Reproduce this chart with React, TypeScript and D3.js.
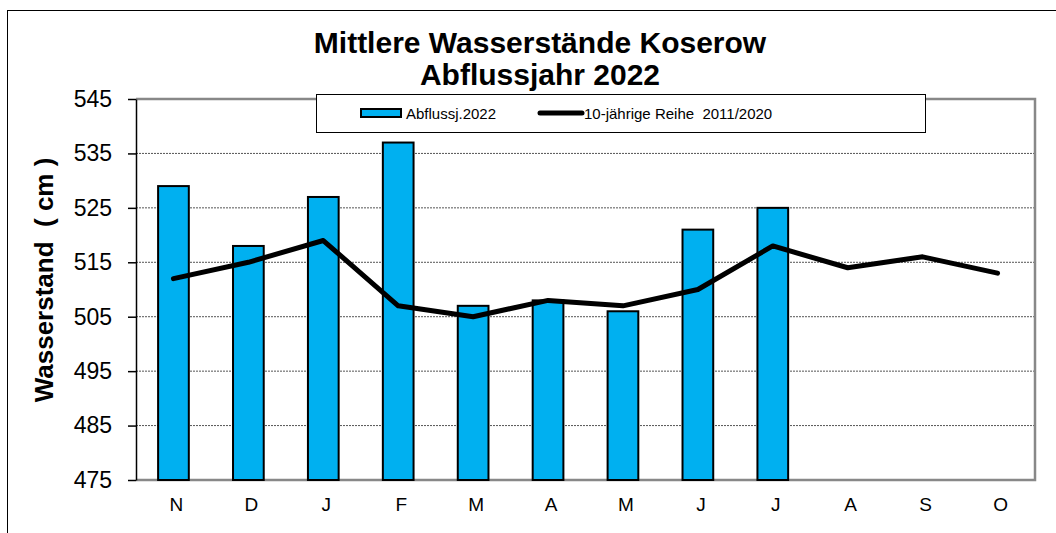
import React, { useEffect, useRef } from "react";
import * as d3 from "d3";

// Monatskürzel Abflussjahr (Nov - Okt)
const months = ["N", "D", "J", "F", "M", "A", "M", "J", "J", "A", "S", "O"];
// Abflussjahr 2022 (nur bis Juli vorhanden)
const values2022 = [529, 518, 527, 537, 507, 508, 506, 521, 525];
// 10-jährige Reihe 2011/2020
const values10y = [512, 515, 519, 507, 505, 508, 507, 510, 518, 514, 516, 513];
const yTicks = [475, 485, 495, 505, 515, 525, 535, 545];

const W = 1056;
const H = 533;
const FONT = "'Liberation Sans', Arial, sans-serif";

export default function App() {
  const ref = useRef<SVGSVGElement>(null);

  useEffect(() => {
    const svg = d3.select(ref.current);
    svg.selectAll("*").remove();

    const left = 136, right = 1035, top = 99, bottom = 480;

    const x = d3.scaleBand<number>()
      .domain(d3.range(months.length))
      .range([left, right])
      .paddingInner(0.59)
      .paddingOuter(0.295);
    const band = (right - left) / months.length;
    const xc = (i: number) => left + band * (i + 0.5);

    const y = d3.scaleLinear().domain([475, 545]).range([bottom, top]);

    // outer frame
    svg.append("rect")
      .attr("x", 7.5).attr("y", 10.5)
      .attr("width", W + 20).attr("height", H + 20)
      .attr("fill", "white").attr("stroke", "#000").attr("stroke-width", 1);

    // title
    const title = svg.append("text")
      .attr("text-anchor", "middle")
      .attr("font-family", FONT)
      .attr("font-weight", "bold")
      .attr("font-size", 30)
      .attr("fill", "#000");
    title.append("tspan").attr("x", 540).attr("y", 53).text("Mittlere Wasserstände Koserow");
    title.append("tspan").attr("x", 540).attr("y", 85).text("Abflussjahr 2022");

    // grid lines
    svg.append("g")
      .selectAll("line")
      .data(yTicks.slice(1, -1))
      .join("line")
      .attr("x1", left).attr("x2", right)
      .attr("y1", d => y(d)).attr("y2", d => y(d))
      .attr("stroke", "#555")
      .attr("stroke-width", 1)
      .attr("stroke-dasharray", "2,1");

    // plot frame (gray)
    svg.append("path")
      .attr("d", `M${left},${top}H${right}V${bottom}H${left}`)
      .attr("fill", "none")
      .attr("stroke", "#888")
      .attr("stroke-width", 2.5);

    // bars
    svg.append("g")
      .selectAll("rect")
      .data(values2022)
      .join("rect")
      .attr("x", (d, i) => x(i)!)
      .attr("y", d => y(d))
      .attr("width", x.bandwidth())
      .attr("height", d => y(475) - y(d))
      .attr("fill", "#00b0f0")
      .attr("stroke", "#000")
      .attr("stroke-width", 2);

    // line
    const line = d3.line<number>()
      .x((d, i) => xc(i))
      .y(d => y(d));
    svg.append("path")
      .attr("d", line(values10y))
      .attr("fill", "none")
      .attr("stroke", "#000")
      .attr("stroke-width", 5)
      .attr("stroke-linejoin", "round")
      .attr("stroke-linecap", "round");

    // y axis
    const yAxis = d3.axisLeft(y)
      .tickValues(yTicks)
      .tickSize(8)
      .tickPadding(16)
      .tickSizeOuter(0);
    const ga = svg.append("g")
      .attr("transform", `translate(${left},0)`)
      .call(yAxis);
    ga.select(".domain").attr("stroke", "#000").attr("stroke-width", 1.5);
    ga.selectAll(".tick line").attr("stroke", "#000").attr("stroke-width", 1.5);
    ga.selectAll(".tick text")
      .attr("font-family", FONT)
      .attr("font-size", 23)
      .attr("fill", "#000");

    // x labels
    svg.append("g")
      .selectAll("text")
      .data(months)
      .join("text")
      .attr("x", (d, i) => xc(i) + 3)
      .attr("y", 511)
      .attr("text-anchor", "middle")
      .attr("font-family", FONT)
      .attr("font-size", 19)
      .attr("fill", "#000")
      .text(d => d);

    // y label
    svg.append("text")
      .attr("transform", "translate(53,280) rotate(-90)")
      .attr("text-anchor", "middle")
      .attr("font-family", FONT)
      .attr("font-weight", "bold")
      .attr("font-size", 26)
      .attr("fill", "#000")
      .attr("xml:space", "preserve")
      .text("Wasserstand  ( cm )");

    // legend
    const lg = svg.append("g");
    lg.append("rect")
      .attr("x", 316.5).attr("y", 94.5)
      .attr("width", 609).attr("height", 38)
      .attr("fill", "#fff")
      .attr("stroke", "#000").attr("stroke-width", 1);
    lg.append("rect")
      .attr("x", 361).attr("y", 109)
      .attr("width", 40).attr("height", 8)
      .attr("fill", "#00b0f0")
      .attr("stroke", "#000").attr("stroke-width", 2);
    lg.append("text")
      .attr("x", 406).attr("y", 119)
      .attr("font-family", FONT).attr("font-size", 15)
      .attr("fill", "#000")
      .text("Abflussj.2022");
    lg.append("line")
      .attr("x1", 540).attr("x2", 582)
      .attr("y1", 113).attr("y2", 113)
      .attr("stroke", "#000").attr("stroke-width", 5)
      .attr("stroke-linecap", "round");
    lg.append("text")
      .attr("x", 584).attr("y", 119)
      .attr("font-family", FONT).attr("font-size", 15)
      .attr("fill", "#000")
      .attr("xml:space", "preserve")
      .text("10-jährige Reihe  2011/2020");
  }, []);

  return (
    <svg
      ref={ref}
      width={W}
      height={H}
      style={{ position: "absolute", left: 0, top: 0, display: "block", background: "#fff" }}
    />
  );
}
